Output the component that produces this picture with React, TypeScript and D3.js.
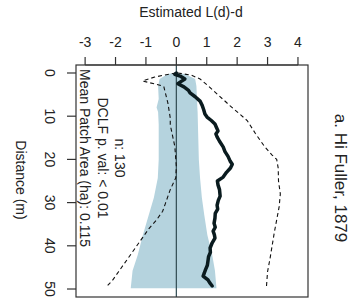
import React, { useEffect, useRef } from "react";
import * as d3 from "d3";

// observed L(d)-d (thick line)
const obsDist = [0, 0.3, 0.8, 1.4, 2.0, 2.5, 3.2, 4.0, 4.6, 5.5, 6.5, 7.5, 8.5, 9.5, 10.2, 11.0, 11.8, 12.6, 13.4, 14.1, 14.8, 15.8, 17.1, 18.2, 19.3, 20.4, 21.1, 22.0, 23.0, 24.1, 25.0, 25.9, 27.0, 28.5, 29.5, 30.6, 31.5, 32.5, 33.6, 34.8, 35.7, 36.6, 37.4, 38.2, 39.3, 40.5, 41.5, 42.5, 43.5, 44.5, 45.5, 46.3, 47.0, 47.9, 48.6, 49.3];
const obsVal = [0.0, -0.05, 0.15, 0.28, 0.15, 0.05, 0.25, 0.4, 0.45, 0.62, 0.78, 0.85, 0.9, 0.94, 1.01, 1.15, 1.27, 1.32, 1.37, 1.3, 1.34, 1.42, 1.54, 1.6, 1.7, 1.77, 1.84, 1.78, 1.65, 1.54, 1.35, 1.37, 1.42, 1.44, 1.38, 1.34, 1.36, 1.28, 1.27, 1.24, 1.28, 1.21, 1.25, 1.27, 1.18, 1.11, 1.12, 1.06, 1.04, 1.02, 0.96, 0.92, 0.88, 1.04, 1.1, 1.18];

// simulation envelope (shaded)
const envDist = [0, 0.3, 1.4, 3, 6, 8, 9, 12, 20, 24.3, 28.9, 32.9, 37.5, 42.1, 45.8, 49.8];
const envLo = [-0.1, -0.3, -0.55, -0.6, -0.58, -0.65, -0.6, -0.58, -0.58, -0.61, -0.74, -0.91, -1.1, -1.27, -1.44, -1.5];
const envHi = [0.1, 0.3, 0.62, 0.66, 0.68, 0.69, 0.7, 0.71, 0.74, 0.78, 0.84, 0.92, 1.02, 1.18, 1.27, 1.32];

// dashed bounds
const loDist = [0, 0.46, 0.93, 1.85, 3.0, 3.2, 6.9, 10.4, 12, 17, 21.7, 24.3, 27, 30, 32, 34, 36, 38, 40, 42, 44, 46, 48, 49.5];
const loVal = [-0.02, -0.38, -0.71, -1.11, -0.45, -0.41, -0.28, -0.2, -0.2, -0.05, 0.0, -0.02, -0.2, -0.35, -0.45, -0.65, -0.9, -1.1, -1.3, -1.5, -1.7, -1.9, -2.1, -2.3];
const hiDist = [0, 0.5, 1.4, 3, 4.6, 7.6, 11, 14, 17, 19, 20, 22, 25, 28, 31, 34, 37, 40, 43, 46, 49.8];
const hiVal = [0.05, 0.5, 0.78, 1.05, 1.3, 1.77, 2.33, 2.6, 2.9, 3.15, 3.3, 3.35, 3.36, 3.42, 3.38, 3.3, 3.22, 3.15, 3.08, 3.0, 2.96];

const xTicks = [-3, -2, -1, 0, 1, 2, 3, 4];
const yTicks = [0, 10, 20, 30, 40, 50];
const infoLines = ["n: 130", "DCLF p. val: < 0.01", "Mean Patch Area (ha): 0.115"];

const App = () => {
  const ref = useRef<SVGSVGElement>(null);

  useEffect(() => {
    const svg = d3.select(ref.current);
    svg.selectAll("*").remove();
    const font = "'Liberation Sans', Arial, sans-serif";

    const left = 76, right = 308, top = 65, bottom = 297;
    const x = d3.scaleLinear().domain([-3.3, 4.33]).range([left, right]);
    const y = d3.scaleLinear().domain([-1.85, 51.85]).range([top, bottom]);

    // envelope
    const env = envDist.map((d, i) => ({ d, lo: envLo[i], hi: envHi[i] }));
    const area = d3.area<any>().y(p => y(p.d)).x0(p => x(p.lo)).x1(p => x(p.hi));
    svg.append("path").attr("d", area(env)).attr("fill", "#b5d3de");

    // zero line
    svg.append("line")
      .attr("x1", x(0)).attr("x2", x(0)).attr("y1", top).attr("y2", bottom)
      .attr("stroke", "#2f4a52").attr("stroke-width", 1.2);

    const line = d3.line<[number, number]>().x(p => x(p[1])).y(p => y(p[0]));

    // dashed bounds
    [[loDist, loVal], [hiDist, hiVal]].forEach(([ds, vs]) => {
      svg.append("path")
        .attr("d", line(ds.map((d, i) => [d, vs[i]])))
        .attr("fill", "none").attr("stroke", "#111").attr("stroke-width", 1.1)
        .attr("stroke-dasharray", "4,3");
    });

    // observed
    svg.append("path")
      .attr("d", line(obsDist.map((d, i) => [d, obsVal[i]])))
      .attr("fill", "none").attr("stroke", "#0a1b1f").attr("stroke-width", 3.5)
      .attr("stroke-linejoin", "round").attr("stroke-linecap", "round");

    // box
    svg.append("rect")
      .attr("x", left).attr("y", top).attr("width", right - left).attr("height", bottom - top)
      .attr("fill", "none").attr("stroke", "#333").attr("stroke-width", 1.2);

    // top axis
    const gx = svg.append("g");
    xTicks.forEach(t => {
      gx.append("line").attr("x1", x(t)).attr("x2", x(t)).attr("y1", top).attr("y2", top - 8)
        .attr("stroke", "#333").attr("stroke-width", 1.2);
      gx.append("text").attr("x", x(t)).attr("y", 42).attr("text-anchor", "middle")
        .attr("dominant-baseline", "central").attr("font-family", font).attr("font-size", 14)
        .attr("fill", "#222").text(String(t));
    });
    gx.append("line").attr("x1", x(-3)).attr("x2", x(4)).attr("y1", top).attr("y2", top)
      .attr("stroke", "#333").attr("stroke-width", 1.2);
    svg.append("text").attr("x", 191).attr("y", 12).attr("text-anchor", "middle")
      .attr("dominant-baseline", "central").attr("font-family", font).attr("font-size", 14)
      .attr("fill", "#222").text("Estimated L(d)-d");

    // left axis
    const gy = svg.append("g");
    yTicks.forEach(t => {
      gy.append("line").attr("x1", left).attr("x2", left - 9).attr("y1", y(t)).attr("y2", y(t))
        .attr("stroke", "#333").attr("stroke-width", 1.2);
      gy.append("text").attr("transform", `translate(50,${y(t)}) rotate(90)`)
        .attr("text-anchor", "middle").attr("dominant-baseline", "central")
        .attr("font-family", font).attr("font-size", 14).attr("fill", "#222").text(String(t));
    });
    svg.append("text").attr("transform", `translate(21,180) rotate(90)`)
      .attr("text-anchor", "middle").attr("dominant-baseline", "central")
      .attr("font-family", font).attr("font-size", 14).attr("fill", "#222").text("Distance (m)");

    // info text
    infoLines.forEach((s, i) => {
      svg.append("text").attr("transform", `translate(${120 - i * 17.5},158) rotate(90)`)
        .attr("text-anchor", "middle").attr("dominant-baseline", "central")
        .attr("font-family", font).attr("font-size", 14).attr("fill", "#222").text(s);
    });

    // panel title
    svg.append("text").attr("transform", `translate(340,178) rotate(90)`)
      .attr("text-anchor", "middle").attr("dominant-baseline", "central")
      .attr("font-family", font).attr("font-size", 17).attr("fill", "#222").text("a. Hi Fuller, 1879");
  }, []);

  return (
    <svg ref={ref} width={361} height={304}
      style={{ position: "absolute", left: 0, top: 0, background: "#fff" }} />
  );
};

export default App;
